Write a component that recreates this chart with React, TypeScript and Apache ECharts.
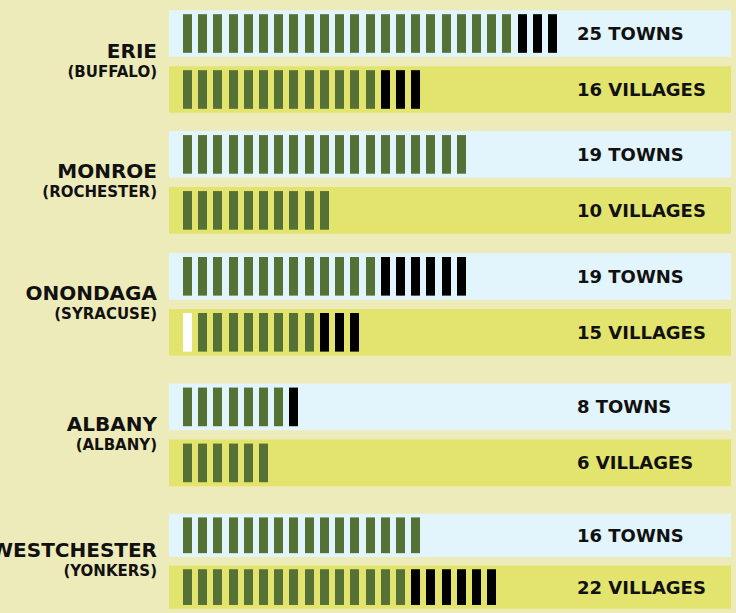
import React, { useEffect, useRef } from "react";
import * as echarts from "echarts";

// County names and seats
const counties = ["ERIE", "MONROE", "ONONDAGA", "ALBANY", "WESTCHESTER"];
const seats = ["(BUFFALO)", "(ROCHESTER)", "(SYRACUSE)", "(ALBANY)", "(YONKERS)"];
const rowKinds = ["TOWNS", "VILLAGES"];

// Totals written in labels
const townTotals = [25, 19, 19, 8, 16];
const villageTotals = [16, 10, 15, 6, 22];

// Pictogram units drawn per bar (white, green, black segments)
const townWhite = [0, 0, 0, 0, 0];
const townGreen = [22, 19, 13, 7, 16];
const townBlack = [3, 0, 6, 1, 0];
const villageWhite = [0, 0, 1, 0, 0];
const villageGreen = [13, 10, 8, 6, 15];
const villageBlack = [3, 0, 3, 0, 6];

const BG = "#EEEBBA";
const BLUE = "#E2F4FC";
const YELLOW = "#E2E46E";
const GREEN = "#557135";
const FONT = '"DejaVu Sans", sans-serif';

const gridTops = [5.5, 126.4, 248.3, 378.9, 509.4];

export default function App() {
  const ref = useRef<HTMLDivElement>(null);
  useEffect(() => {
    if (!ref.current) return;
    const chart = echarts.init(ref.current, null, { renderer: "svg" });

    const grids = counties.map((_, c) => ({
      left: 169,
      width: 562,
      top: gridTops[c],
      height: 112,
    }));
    const xAxes = counties.map((_, c) => ({
      type: "value",
      gridIndex: c,
      min: -0.716,
      max: 36.234,
      show: false,
    }));
    const yAxes = counties.map((_, c) => ({
      type: "category",
      gridIndex: c,
      data: rowKinds,
      inverse: true,
      show: false,
    }));

    const series = counties.map((name, c) => ({
      type: "custom",
      xAxisIndex: c,
      yAxisIndex: c,
      clip: false,
      encode: { x: 2, y: 0 },
      data: [
        [0, townWhite[c], townGreen[c], townBlack[c], townTotals[c]],
        [1, villageWhite[c], villageGreen[c], villageBlack[c], villageTotals[c]],
      ],
      renderItem: (params: any, api: any) => {
        const row = api.value(0);
        const white = api.value(1);
        const green = api.value(2);
        const black = api.value(3);
        const total = api.value(4);
        const center = api.coord([0, row]);
        const rowH = api.size([0, 1])[1];
        const unitW = api.size([1, 0])[0];
        const cs = params.coordSys;
        const children: any[] = [];
        children.push({
          type: "rect",
          shape: {
            x: cs.x,
            y: center[1] - rowH * 0.417,
            width: cs.width,
            height: rowH * 0.834,
          },
          style: { fill: row === 0 ? BLUE : YELLOW },
        });
        let k = 0;
        const segs: [number, string][] = [
          [white, "#FFFFFF"],
          [green, GREEN],
          [black, "#000000"],
        ];
        for (const [cnt, col] of segs) {
          for (let j = 0; j < cnt; j++) {
            const px = api.coord([k + 0.5, row])[0];
            children.push({
              type: "rect",
              shape: {
                x: Math.round(px - unitW * 0.296),
                y: center[1] - rowH * 0.345,
                width: unitW * 0.592,
                height: rowH * 0.69,
              },
              style: { fill: col },
            });
            k++;
          }
        }
        children.push({
          type: "text",
          x: cs.x + 408,
          y: center[1],
          style: {
            text: `${total} ${rowKinds[row]}`,
            fill: "#111",
            font: `bold 18px ${FONT}`,
            verticalAlign: "middle",
            align: "left",
          },
        });
        if (row === 0) {
          const gc = center[1] + rowH * 0.5;
          children.push({
            type: "text",
            x: cs.x - 12,
            y: gc - 11,
            style: {
              text: name,
              fill: "#111",
              font: `bold 20px ${FONT}`,
              verticalAlign: "middle",
              align: "right",
            },
          });
          children.push({
            type: "text",
            x: cs.x - 12,
            y: gc + 10,
            style: {
              text: seats[c],
              fill: "#111",
              font: `bold 15px ${FONT}`,
              verticalAlign: "middle",
              align: "right",
            },
          });
        }
        return { type: "group", children };
      },
    }));

    chart.setOption({
      animation: false,
      backgroundColor: BG,
      grid: grids,
      xAxis: xAxes,
      yAxis: yAxes,
      series,
    } as any);
    return () => chart.dispose();
  }, []);
  return (
    <div
      ref={ref}
      style={{ position: "absolute", left: 0, top: 0, width: 736, height: 613 }}
    />
  );
}
